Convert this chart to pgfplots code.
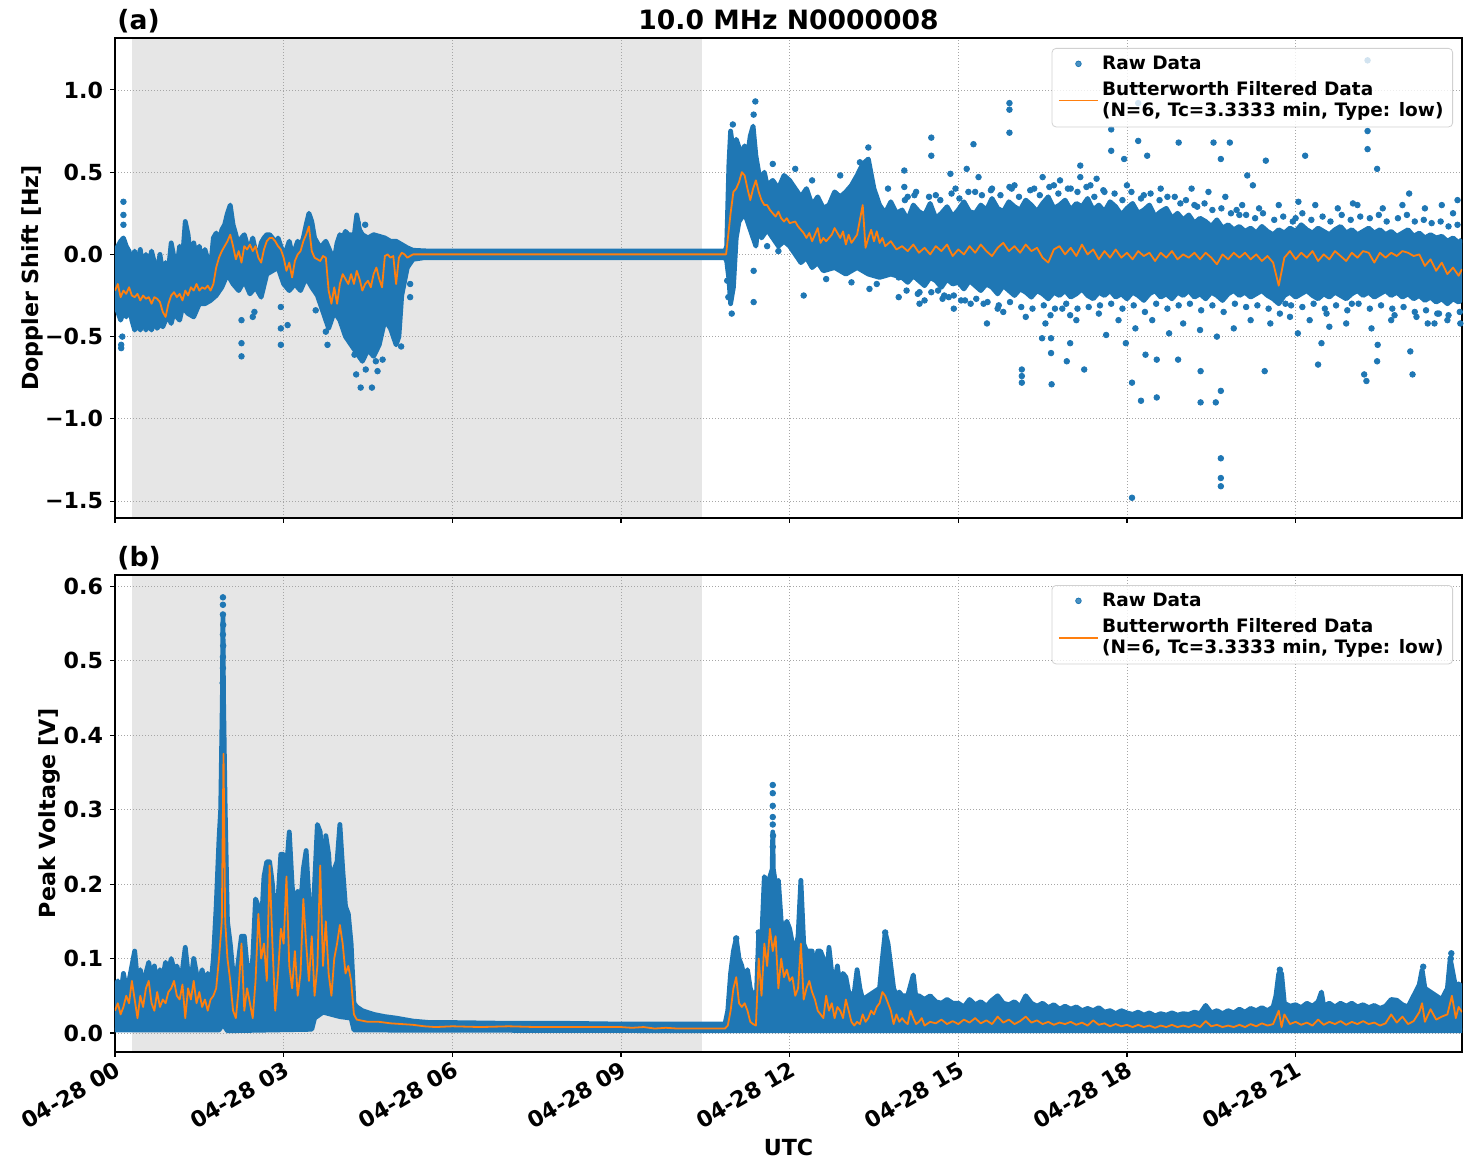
\documentclass[border=0pt]{standalone}
\usepackage{fontspec}
\setmainfont{DejaVu Sans}
\usepackage{pgfplots}
\pgfplotsset{compat=1.18}
\usepgfplotslibrary{fillbetween}
\definecolor{tblue}{HTML}{1F77B4}
\definecolor{torange}{HTML}{FF7F0E}
\definecolor{spangray}{HTML}{E6E6E6}
\pgfplotsset{
  myax/.style={
    set layers,
    scale only axis, width=673.5pt,
    xmin=0, xmax=23.96,
    xtick={0,3,6,9,12,15,18,21},
    grid=major,
    grid style={black!35, line width=0.4pt, dash pattern=on 0.5pt off 1pt},
    axis line style={line width=0.55pt},
    tick style={black, line width=0.55pt},
    major tick length=2.45pt,
    tick align=outside,
    xtick pos=left, ytick pos=left,
    ticklabel style={font=\fontsize{11.1}{12}\selectfont\bfseries},
    label style={font=\fontsize{11.1}{12}\selectfont\bfseries},
    legend cell align=left,
    legend style={at={(1,1)}, anchor=north east, xshift=-4.5pt, yshift=-5pt,
      draw=black!18, rounded corners=2pt, fill=white, fill opacity=0.8,
      draw opacity=1, text opacity=1,
      font=\fontsize{9.25}{10.6}\selectfont\bfseries,
      nodes={align=left, inner sep=1.6pt}, row sep=1.5pt,
      inner xsep=3pt, inner ysep=2pt},
  },
  rawdots/.style={only marks, mark=*, mark size=1.4pt, color=tblue,
    legend image code/.code={\draw[mark repeat=2,mark phase=2,##1] plot coordinates {(0pt,0pt) (9.75pt,0pt) (19.5pt,0pt)};}},
  filt/.style={color=torange, line width=0.9pt, line join=round,
    legend image code/.code={\draw[##1] (0pt,0pt) -- (19.5pt,0pt);}},
  env/.style={draw=tblue, line width=2.4pt, line join=round, forget plot},
}
\begin{document}
\begin{tikzpicture}
% ---------------- bottom panel (b) ----------------
\begin{axis}[myax, name=bot, at={(0,0)}, anchor=south west, height=238.5pt,
  ymin=-0.0255, ymax=0.615,
  ytick={0,0.1,0.2,0.3,0.4,0.5,0.6},
  yticklabels={0.0,0.1,0.2,0.3,0.4,0.5,0.6},
  xticklabels={04-28 00,04-28 03,04-28 06,04-28 09,04-28 12,04-28 15,04-28 18,04-28 21},
  xticklabel style={rotate=30, anchor=north east, inner sep=1pt},
  ylabel={Peak Voltage [V]}, xlabel={UTC}, ylabel shift=-5pt,
]
\addplot[fill=spangray, draw=none, forget plot, on layer=axis background]
  coordinates {(0.30,-0.0255) (10.44,-0.0255) (10.44,0.615) (0.30,0.615)} -- cycle;
\addplot[env, name path=bu] coordinates {
(0.00,0.06)(0.05,0.07)(0.10,0.05)(0.15,0.08)(0.20,0.06)(0.25,0.07)(0.30,0.09)(0.35,0.11)(0.40,0.07)(0.45,0.085)(0.50,0.06)(0.55,0.08)(0.60,0.095)(0.65,0.07)(0.70,0.09)(0.75,0.06)(0.80,0.085)(0.85,0.075)(0.90,0.095)(0.95,0.08)(1.00,0.10)(1.05,0.085)(1.10,0.09)(1.15,0.075)(1.20,0.085)(1.25,0.115)(1.30,0.08)(1.35,0.07)(1.40,0.10)(1.45,0.08)(1.50,0.07)(1.55,0.085)(1.60,0.06)(1.65,0.08)(1.70,0.06)(1.75,0.10)(1.80,0.17)(1.85,0.26)(1.88,0.30)(1.91,0.45)(1.92,0.56)(1.93,0.45)(1.96,0.30)(2.00,0.15)(2.05,0.12)(2.10,0.08)(2.15,0.07)(2.20,0.10)(2.25,0.13)(2.30,0.13)(2.35,0.09)(2.40,0.07)(2.45,0.10)(2.50,0.18)(2.55,0.17)(2.60,0.14)(2.65,0.21)(2.70,0.23)(2.75,0.23)(2.80,0.20)(2.85,0.15)(2.90,0.18)(2.95,0.24)(3.00,0.24)(3.05,0.22)(3.10,0.27)(3.15,0.20)(3.20,0.15)(3.25,0.19)(3.30,0.17)(3.35,0.22)(3.40,0.245)(3.45,0.18)(3.50,0.13)(3.55,0.20)(3.60,0.28)(3.65,0.27)(3.70,0.20)(3.75,0.265)(3.80,0.24)(3.85,0.18)(3.90,0.22)(3.95,0.23)(4.00,0.28)(4.05,0.22)(4.10,0.17)(4.15,0.16)(4.20,0.12)(4.25,0.04)(4.30,0.035)(4.40,0.03)(4.60,0.025)(4.80,0.022)(5.00,0.02)(5.30,0.016)(5.60,0.014)(6.00,0.014)(7.00,0.013)(8.00,0.013)(9.00,0.012)(10.00,0.012)(10.85,0.012)(10.90,0.03)(10.95,0.08)(11.00,0.11)(11.05,0.127)(11.10,0.10)(11.15,0.09)(11.20,0.07)(11.25,0.085)(11.30,0.06)(11.35,0.05)(11.40,0.03)(11.45,0.135)(11.50,0.12)(11.55,0.21)(11.60,0.20)(11.65,0.21)(11.69,0.22)(11.70,0.27)(11.71,0.22)(11.75,0.20)(11.80,0.205)(11.85,0.15)(11.90,0.14)(11.95,0.15)(12.00,0.14)(12.05,0.12)(12.10,0.11)(12.15,0.13)(12.20,0.205)(12.25,0.12)(12.30,0.11)(12.35,0.11)(12.40,0.11)(12.45,0.08)(12.50,0.11)(12.55,0.11)(12.60,0.10)(12.65,0.06)(12.70,0.115)(12.75,0.08)(12.80,0.07)(12.85,0.09)(12.90,0.06)(12.95,0.08)(13.00,0.075)(13.05,0.055)(13.10,0.05)(13.15,0.055)(13.20,0.085)(13.25,0.06)(13.30,0.045)(13.40,0.05)(13.50,0.055)(13.60,0.06)(13.65,0.10)(13.70,0.135)(13.75,0.12)(13.80,0.09)(13.85,0.06)(13.90,0.05)(13.95,0.055)(14.00,0.05)(14.10,0.05)(14.20,0.078)(14.25,0.045)(14.30,0.05)(14.40,0.045)(14.50,0.05)(14.60,0.042)(14.70,0.04)(14.80,0.045)(14.90,0.04)(15.00,0.04)(15.10,0.035)(15.20,0.045)(15.30,0.038)(15.40,0.042)(15.50,0.036)(15.60,0.044)(15.70,0.05)(15.80,0.04)(15.90,0.038)(16.00,0.042)(16.10,0.035)(16.20,0.05)(16.30,0.04)(16.40,0.036)(16.50,0.04)(16.60,0.034)(16.70,0.038)(16.80,0.032)(16.90,0.036)(17.00,0.032)(17.10,0.035)(17.20,0.03)(17.30,0.033)(17.40,0.03)(17.50,0.034)(17.60,0.028)(17.70,0.03)(17.80,0.026)(17.90,0.03)(18.00,0.027)(18.10,0.025)(18.20,0.028)(18.30,0.024)(18.40,0.027)(18.50,0.023)(18.60,0.026)(18.70,0.024)(18.80,0.027)(18.90,0.024)(19.00,0.026)(19.10,0.025)(19.20,0.028)(19.30,0.026)(19.40,0.037)(19.50,0.027)(19.60,0.03)(19.70,0.026)(19.80,0.03)(19.90,0.027)(20.00,0.032)(20.10,0.028)(20.20,0.033)(20.30,0.03)(20.40,0.034)(20.50,0.03)(20.60,0.035)(20.65,0.05)(20.70,0.08)(20.75,0.08)(20.80,0.04)(20.90,0.036)(21.00,0.038)(21.10,0.034)(21.20,0.04)(21.30,0.036)(21.40,0.042)(21.46,0.055)(21.50,0.036)(21.60,0.04)(21.70,0.035)(21.80,0.04)(21.90,0.036)(22.00,0.04)(22.10,0.035)(22.20,0.038)(22.30,0.034)(22.40,0.037)(22.50,0.033)(22.60,0.036)(22.70,0.045)(22.80,0.044)(22.90,0.038)(23.00,0.035)(23.10,0.05)(23.20,0.065)(23.25,0.085)(23.30,0.06)(23.40,0.055)(23.50,0.05)(23.60,0.045)(23.70,0.06)(23.75,0.10)(23.80,0.08)(23.85,0.06)(23.90,0.066)(23.96,0.062)};
\addplot[env, name path=bl] coordinates {
(0.00,0.004)(1.85,0.004)(1.92,0.012)(2.00,0.003)(3.50,0.005)(3.55,0.02)(3.70,0.028)(4.00,0.022)(4.20,0.02)(4.25,0.004)(10.85,0.003)(23.96,0.003)};
\addplot[tblue, forget plot] fill between[of=bu and bl];
\addplot[rawdots] coordinates {
(1.92,0.585)(1.92,0.575)(1.92,0.562)(1.925,0.548)(1.92,0.535)(1.925,0.52)(1.92,0.505)(1.92,0.49)(1.915,0.47)
(11.70,0.333)(11.70,0.322)(11.70,0.305)(11.70,0.29)(11.70,0.28)(11.705,0.265)(11.70,0.25)
(20.72,0.085)(20.72,0.078)(23.27,0.089)(23.77,0.107)(23.76,0.1)(13.70,0.135)(11.05,0.127)(11.45,0.135)};
\addlegendentry{Raw Data}
\addplot[filt] coordinates {
(0.00,0.03)(0.05,0.04)(0.10,0.025)(0.15,0.035)(0.20,0.05)(0.25,0.04)(0.30,0.07)(0.35,0.045)(0.40,0.02)(0.45,0.05)(0.50,0.035)(0.55,0.06)(0.60,0.07)(0.65,0.04)(0.70,0.03)(0.75,0.055)(0.80,0.035)(0.85,0.045)(0.90,0.04)(0.95,0.055)(1.00,0.06)(1.05,0.07)(1.10,0.05)(1.15,0.045)(1.20,0.065)(1.25,0.02)(1.30,0.06)(1.35,0.045)(1.40,0.07)(1.45,0.04)(1.50,0.055)(1.55,0.035)(1.60,0.045)(1.65,0.03)(1.70,0.045)(1.75,0.05)(1.80,0.06)(1.85,0.10)(1.90,0.15)(1.93,0.375)(1.96,0.15)(2.00,0.10)(2.05,0.07)(2.10,0.03)(2.15,0.02)(2.20,0.06)(2.25,0.12)(2.30,0.03)(2.35,0.06)(2.40,0.04)(2.45,0.02)(2.50,0.07)(2.55,0.16)(2.60,0.10)(2.65,0.12)(2.70,0.07)(2.75,0.225)(2.80,0.12)(2.85,0.03)(2.90,0.08)(2.95,0.14)(3.00,0.12)(3.05,0.21)(3.10,0.09)(3.15,0.06)(3.20,0.11)(3.25,0.05)(3.30,0.08)(3.35,0.18)(3.40,0.12)(3.45,0.07)(3.50,0.13)(3.55,0.05)(3.60,0.09)(3.65,0.225)(3.70,0.09)(3.75,0.15)(3.80,0.08)(3.85,0.05)(3.90,0.10)(3.95,0.12)(4.00,0.145)(4.05,0.12)(4.10,0.08)(4.15,0.09)(4.20,0.07)(4.25,0.025)(4.30,0.018)(4.50,0.015)(4.70,0.015)(4.90,0.013)(5.10,0.012)(5.30,0.011)(5.50,0.009)(5.70,0.008)(6.00,0.009)(6.50,0.008)(7.00,0.009)(7.50,0.008)(8.00,0.008)(8.50,0.008)(9.00,0.008)(9.20,0.007)(9.40,0.008)(9.60,0.006)(9.80,0.007)(10.00,0.006)(10.20,0.006)(10.85,0.006)(10.90,0.01)(10.95,0.03)(11.00,0.06)(11.05,0.075)(11.10,0.04)(11.15,0.035)(11.20,0.04)(11.25,0.03)(11.30,0.015)(11.35,0.012)(11.40,0.01)(11.45,0.10)(11.50,0.05)(11.55,0.12)(11.60,0.09)(11.65,0.14)(11.70,0.11)(11.75,0.13)(11.80,0.06)(11.85,0.10)(11.90,0.075)(11.95,0.085)(12.00,0.07)(12.05,0.075)(12.10,0.05)(12.15,0.06)(12.20,0.12)(12.25,0.045)(12.30,0.06)(12.35,0.07)(12.40,0.055)(12.45,0.045)(12.50,0.03)(12.55,0.025)(12.60,0.02)(12.65,0.05)(12.70,0.03)(12.75,0.04)(12.80,0.02)(12.85,0.035)(12.90,0.03)(12.95,0.02)(13.00,0.045)(13.05,0.03)(13.10,0.015)(13.15,0.01)(13.20,0.015)(13.25,0.012)(13.30,0.025)(13.35,0.015)(13.40,0.02)(13.45,0.03)(13.50,0.025)(13.55,0.035)(13.60,0.04)(13.65,0.055)(13.70,0.05)(13.75,0.04)(13.80,0.03)(13.85,0.012)(13.90,0.025)(13.95,0.015)(14.00,0.02)(14.05,0.015)(14.10,0.012)(14.15,0.03)(14.20,0.02)(14.25,0.012)(14.30,0.015)(14.35,0.02)(14.40,0.01)(14.50,0.015)(14.60,0.013)(14.70,0.018)(14.80,0.012)(14.90,0.016)(15.00,0.012)(15.10,0.018)(15.20,0.014)(15.30,0.02)(15.40,0.013)(15.50,0.017)(15.60,0.012)(15.70,0.022)(15.80,0.014)(15.90,0.018)(16.00,0.012)(16.10,0.016)(16.20,0.022)(16.30,0.014)(16.40,0.017)(16.50,0.012)(16.60,0.015)(16.70,0.011)(16.80,0.014)(16.90,0.012)(17.00,0.015)(17.10,0.011)(17.20,0.014)(17.30,0.010)(17.40,0.017)(17.50,0.011)(17.60,0.013)(17.70,0.009)(17.80,0.012)(17.90,0.009)(18.00,0.011)(18.10,0.008)(18.20,0.011)(18.30,0.008)(18.40,0.010)(18.50,0.007)(18.60,0.010)(18.70,0.008)(18.80,0.011)(18.90,0.008)(19.00,0.010)(19.10,0.008)(19.20,0.011)(19.30,0.008)(19.40,0.016)(19.50,0.009)(19.60,0.011)(19.70,0.008)(19.80,0.010)(19.90,0.008)(20.00,0.011)(20.10,0.008)(20.20,0.012)(20.30,0.009)(20.40,0.013)(20.50,0.010)(20.60,0.012)(20.70,0.030)(20.75,0.008)(20.80,0.025)(20.90,0.012)(21.00,0.015)(21.10,0.011)(21.20,0.014)(21.30,0.010)(21.40,0.018)(21.50,0.011)(21.60,0.015)(21.70,0.012)(21.80,0.016)(21.90,0.011)(22.00,0.015)(22.10,0.012)(22.20,0.016)(22.30,0.012)(22.40,0.014)(22.50,0.010)(22.60,0.013)(22.70,0.025)(22.80,0.014)(22.90,0.022)(23.00,0.012)(23.10,0.016)(23.20,0.028)(23.25,0.04)(23.30,0.015)(23.40,0.032)(23.50,0.018)(23.60,0.022)(23.70,0.025)(23.78,0.05)(23.85,0.02)(23.90,0.035)(23.96,0.028)};
\addlegendentry{Butterworth Filtered Data\\(N=6, Tc=3.3333 min, Type: low)}
\end{axis}
% ---------------- top panel (a) ----------------
\begin{axis}[myax, name=top, at={(0,267pt)}, anchor=south west, height=240pt,
  ymin=-1.603, ymax=1.316,
  ytick={-1.5,-1,-0.5,0,0.5,1},
  yticklabels={−1.5,−1.0,−0.5,0.0,0.5,1.0},
  xticklabels={},
  ylabel={Doppler Shift [Hz]}, ylabel shift=-6pt,
]
\addplot[fill=spangray, draw=none, forget plot, on layer=axis background]
  coordinates {(0.30,-1.603) (10.44,-1.603) (10.44,1.316) (0.30,1.316)} -- cycle;
\addplot[env, name path=tu] coordinates {
(0.00,0.02)(0.05,0.05)(0.10,0.08)(0.15,0.10)(0.20,0.05)(0.25,0.02)(0.30,-0.05)(0.35,0.02)(0.40,-0.08)(0.45,0.03)(0.50,-0.10)(0.55,0.00)(0.60,-0.08)(0.65,0.02)(0.70,-0.05)(0.75,-0.10)(0.80,0.00)(0.85,-0.12)(0.90,-0.05)(0.95,-0.10)(1.00,0.07)(1.05,-0.02)(1.10,-0.08)(1.15,0.05)(1.20,-0.03)(1.25,0.20)(1.30,0.12)(1.35,-0.05)(1.40,0.07)(1.45,-0.02)(1.50,0.05)(1.55,-0.05)(1.60,0.03)(1.65,-0.03)(1.70,-0.08)(1.75,0.10)(1.80,0.13)(1.85,0.07)(1.90,0.15)(1.95,0.18)(2.00,0.25)(2.05,0.30)(2.10,0.18)(2.15,0.12)(2.20,0.05)(2.25,0.10)(2.30,0.12)(2.35,0.06)(2.40,0.04)(2.45,0.10)(2.50,0.02)(2.55,-0.02)(2.60,0.07)(2.65,0.10)(2.70,0.12)(2.75,0.12)(2.80,0.10)(2.85,0.05)(2.90,0.10)(2.95,0.05)(3.00,0.00)(3.05,0.03)(3.10,0.08)(3.15,0.00)(3.20,0.03)(3.25,0.08)(3.30,0.05)(3.35,0.10)(3.40,0.18)(3.45,0.25)(3.50,0.20)(3.55,0.10)(3.60,0.07)(3.65,0.04)(3.70,0.06)(3.75,0.08)(3.80,0.04)(3.85,0.00)(3.90,-0.03)(3.95,0.07)(4.00,0.12)(4.05,0.10)(4.10,0.14)(4.15,0.12)(4.20,0.12)(4.25,0.10)(4.30,0.24)(4.35,0.15)(4.40,0.12)(4.50,0.10)(4.60,0.12)(4.70,0.11)(4.80,0.10)(4.90,0.08)(5.00,0.08)(5.10,0.06)(5.20,0.04)(5.30,0.025)(5.60,0.02)(6.00,0.02)(7.00,0.02)(8.00,0.02)(9.00,0.02)(10.00,0.02)(10.85,0.02)(10.88,0.05)(10.92,0.55)(10.95,0.75)(11.00,0.62)(11.05,0.70)(11.10,0.65)(11.15,0.62)(11.20,0.66)(11.25,0.60)(11.30,0.72)(11.35,0.78)(11.40,0.60)(11.45,0.50)(11.50,0.45)(11.55,0.50)(11.60,0.42)(11.70,0.45)(11.80,0.40)(11.90,0.48)(12.00,0.45)(12.10,0.40)(12.20,0.35)(12.30,0.40)(12.40,0.30)(12.50,0.35)(12.60,0.28)(12.70,0.30)(12.80,0.38)(12.90,0.35)(13.00,0.38)(13.10,0.42)(13.20,0.48)(13.30,0.55)(13.40,0.58)(13.50,0.40)(13.60,0.30)(13.70,0.25)(13.80,0.32)(13.90,0.25)(14.00,0.27)(14.10,0.21)(14.20,0.30)(14.30,0.26)(14.40,0.24)(14.50,0.31)(14.60,0.22)(14.70,0.25)(14.80,0.29)(14.90,0.23)(15.00,0.27)(15.10,0.32)(15.20,0.26)(15.30,0.25)(15.40,0.30)(15.50,0.27)(15.60,0.34)(15.70,0.28)(15.80,0.26)(15.90,0.32)(16.00,0.29)(16.10,0.27)(16.20,0.33)(16.30,0.30)(16.40,0.26)(16.50,0.31)(16.60,0.35)(16.70,0.28)(16.80,0.30)(16.90,0.33)(17.00,0.27)(17.10,0.31)(17.20,0.29)(17.30,0.34)(17.40,0.27)(17.50,0.30)(17.60,0.26)(17.70,0.32)(17.80,0.29)(17.90,0.24)(18.00,0.28)(18.10,0.31)(18.20,0.25)(18.30,0.27)(18.40,0.30)(18.50,0.23)(18.60,0.26)(18.70,0.28)(18.80,0.22)(18.90,0.25)(19.00,0.21)(19.10,0.24)(19.20,0.19)(19.30,0.22)(19.40,0.20)(19.50,0.17)(19.60,0.21)(19.70,0.16)(19.80,0.18)(19.90,0.15)(20.00,0.17)(20.10,0.14)(20.20,0.16)(20.30,0.13)(20.40,0.17)(20.50,0.14)(20.60,0.12)(20.70,0.15)(20.80,0.13)(20.90,0.16)(21.00,0.14)(21.10,0.18)(21.20,0.15)(21.30,0.13)(21.40,0.16)(21.50,0.14)(21.60,0.12)(21.70,0.15)(21.80,0.17)(21.90,0.13)(22.00,0.15)(22.10,0.12)(22.20,0.14)(22.30,0.16)(22.40,0.13)(22.50,0.15)(22.60,0.12)(22.70,0.14)(22.80,0.11)(22.90,0.13)(23.00,0.15)(23.10,0.11)(23.20,0.13)(23.30,0.10)(23.40,0.12)(23.50,0.10)(23.60,0.11)(23.70,0.08)(23.80,0.10)(23.90,0.07)(23.96,0.09)};
\addplot[env, name path=tl] coordinates {
(0.00,-0.30)(0.05,-0.35)(0.10,-0.40)(0.15,-0.35)(0.20,-0.38)(0.25,-0.30)(0.30,-0.40)(0.35,-0.46)(0.40,-0.42)(0.45,-0.46)(0.50,-0.40)(0.55,-0.46)(0.60,-0.42)(0.65,-0.46)(0.70,-0.40)(0.75,-0.45)(0.80,-0.42)(0.85,-0.44)(0.90,-0.40)(0.95,-0.38)(1.00,-0.42)(1.05,-0.35)(1.10,-0.38)(1.15,-0.40)(1.20,-0.32)(1.30,-0.36)(1.40,-0.38)(1.50,-0.30)(1.60,-0.30)(1.70,-0.28)(1.80,-0.25)(1.90,-0.20)(2.00,-0.12)(2.10,-0.18)(2.20,-0.22)(2.30,-0.16)(2.40,-0.24)(2.50,-0.20)(2.60,-0.26)(2.70,-0.12)(2.80,-0.10)(2.90,-0.08)(3.00,-0.18)(3.10,-0.22)(3.20,-0.18)(3.30,-0.22)(3.40,-0.14)(3.50,-0.20)(3.60,-0.25)(3.70,-0.35)(3.80,-0.45)(3.90,-0.35)(4.00,-0.40)(4.10,-0.50)(4.20,-0.55)(4.30,-0.60)(4.40,-0.65)(4.50,-0.58)(4.60,-0.62)(4.70,-0.55)(4.80,-0.40)(4.90,-0.45)(5.00,-0.55)(5.05,-0.50)(5.10,-0.25)(5.20,-0.08)(5.30,-0.03)(5.50,-0.02)(6.00,-0.02)(7.00,-0.02)(8.00,-0.02)(9.00,-0.02)(10.00,-0.02)(10.85,-0.02)(10.88,-0.04)(10.92,-0.15)(10.95,-0.30)(11.00,-0.20)(11.05,0.10)(11.10,0.20)(11.20,0.25)(11.30,0.15)(11.40,0.05)(11.45,0.20)(11.50,0.10)(11.60,0.15)(11.70,0.10)(11.80,0.05)(11.90,0.08)(12.00,0.05)(12.10,0.00)(12.20,-0.05)(12.30,-0.02)(12.40,-0.08)(12.50,-0.05)(12.60,-0.10)(12.80,-0.08)(13.00,-0.12)(13.20,-0.08)(13.40,-0.12)(13.60,-0.14)(13.80,-0.12)(14.00,-0.14)(14.10,-0.17)(14.20,-0.13)(14.30,-0.16)(14.40,-0.19)(14.50,-0.14)(14.60,-0.16)(14.70,-0.20)(14.80,-0.15)(14.90,-0.18)(15.00,-0.17)(15.10,-0.21)(15.20,-0.16)(15.30,-0.19)(15.40,-0.22)(15.50,-0.18)(15.60,-0.20)(15.70,-0.24)(15.80,-0.19)(15.90,-0.22)(16.00,-0.25)(16.10,-0.21)(16.20,-0.23)(16.30,-0.26)(16.40,-0.22)(16.50,-0.24)(16.60,-0.27)(16.70,-0.23)(16.80,-0.25)(16.90,-0.22)(17.00,-0.26)(17.10,-0.24)(17.20,-0.21)(17.30,-0.25)(17.40,-0.27)(17.50,-0.23)(17.60,-0.25)(17.70,-0.22)(17.80,-0.26)(17.90,-0.24)(18.00,-0.27)(18.10,-0.23)(18.20,-0.25)(18.30,-0.28)(18.40,-0.24)(18.50,-0.22)(18.60,-0.26)(18.70,-0.24)(18.80,-0.27)(18.90,-0.23)(19.00,-0.25)(19.10,-0.22)(19.20,-0.26)(19.30,-0.24)(19.40,-0.27)(19.50,-0.23)(19.60,-0.25)(19.70,-0.28)(19.80,-0.24)(19.90,-0.22)(20.00,-0.25)(20.10,-0.23)(20.20,-0.26)(20.30,-0.24)(20.40,-0.22)(20.50,-0.25)(20.60,-0.27)(20.70,-0.30)(20.80,-0.25)(20.90,-0.23)(21.00,-0.26)(21.10,-0.24)(21.20,-0.22)(21.30,-0.25)(21.40,-0.27)(21.50,-0.24)(21.60,-0.26)(21.70,-0.23)(21.80,-0.25)(21.90,-0.27)(22.00,-0.24)(22.10,-0.22)(22.20,-0.25)(22.30,-0.23)(22.40,-0.26)(22.50,-0.24)(22.60,-0.22)(22.70,-0.25)(22.80,-0.23)(22.90,-0.26)(23.00,-0.24)(23.10,-0.27)(23.20,-0.25)(23.30,-0.28)(23.40,-0.26)(23.50,-0.29)(23.60,-0.27)(23.70,-0.30)(23.80,-0.27)(23.90,-0.29)(23.96,-0.27)};
\addplot[tblue, forget plot] fill between[of=tu and tl];
\addplot[rawdots] coordinates {
(0.15,0.32)(0.15,0.24)(0.15,0.18)(0.11,-0.55)(0.11,-0.57)(0.13,-0.50)
(2.25,-0.62)(2.25,-0.54)(2.25,-0.40)(2.45,-0.38)(2.48,-0.35)(2.95,-0.45)(2.95,-0.55)(2.95,-0.32)(3.07,-0.43)(3.78,-0.55)(3.75,-0.47)(3.57,-0.34)
(4.29,-0.73)(4.37,-0.81)(4.46,-0.70)(4.57,-0.81)(4.67,-0.71)(4.76,-0.64)(4.26,-0.61)(4.64,-0.65)(5.09,-0.56)(5.25,-0.26)(5.25,-0.18)(4.32,0.19)(4.45,0.18)
(11.39,0.93)(11.36,0.85)(10.99,0.79)(10.91,-0.26)(10.97,-0.36)(10.89,-0.16)(11.36,-0.10)(11.36,-0.29)(12.25,-0.25)(13.40,0.65)(13.42,-0.21)(13.94,-0.14)(13.94,-0.26)(14.04,0.51)(14.04,0.41)(14.31,-0.23)(14.31,-0.30)(14.52,0.71)(14.52,0.60)(14.64,-0.22)(14.83,-0.26)(14.86,0.49)(14.92,-0.33)(15.15,0.52)(15.22,-0.30)(15.27,0.67)(15.36,0.47)(15.51,-0.42)(15.70,-0.33)(15.91,0.92)(15.91,0.88)(15.91,0.74)(15.91,0.41)(16.13,-0.70)(16.13,-0.74)(16.13,-0.78)(16.49,-0.51)(16.50,0.47)(16.64,-0.37)(16.65,-0.51)(16.65,-0.60)(16.66,-0.79)(16.81,0.45)(16.93,-0.65)(16.99,-0.37)(16.99,-0.54)(17.17,0.54)(17.24,-0.70)(17.17,0.47)(17.46,0.46)(17.63,-0.49)(17.72,0.76)(17.72,0.63)(17.95,0.58)(17.98,-0.54)(18.09,-0.78)(18.09,-1.48)(18.20,0.92)(18.20,0.69)(18.25,-0.89)(18.36,0.60)(18.33,-0.61)(18.53,-0.87)(18.53,-0.64)(18.92,0.68)(18.91,-0.64)(19.31,-0.71)(19.31,-0.90)(19.54,0.68)(19.58,-0.90)(19.67,-0.83)(19.67,-1.24)(19.67,-1.36)(19.67,-1.41)(19.67,0.58)(19.83,0.68)(20.14,0.48)(20.24,0.42)(20.47,0.57)(20.45,-0.71)(20.82,-0.30)(21.04,-0.48)(21.17,0.60)(21.40,-0.67)(21.46,-0.54)(21.60,-0.44)(22.02,0.31)(22.22,-0.73)(22.26,-0.77)(22.28,1.18)(22.28,0.75)(22.28,0.64)(22.45,0.52)(22.45,-0.65)(22.46,-0.55)(22.76,-0.37)(23.02,0.37)(23.08,-0.73)(23.04,-0.59)(23.35,-0.42)(23.47,-0.42)(23.70,-0.40)(23.88,0.33)(23.93,-0.42)
(14.10,0.35)(14.25,0.38)(14.40,-0.28)(14.60,0.36)(14.75,-0.25)(14.95,0.40)(15.05,-0.28)(15.30,0.38)(15.45,-0.30)(15.60,0.40)(15.80,-0.35)(16.00,0.42)(16.20,-0.38)(16.35,0.40)(16.55,-0.42)(16.70,0.42)(16.85,-0.33)(17.00,0.40)(17.10,-0.40)(17.35,0.42)(17.50,-0.36)(17.60,0.38)(17.85,-0.40)(18.00,0.42)(18.15,-0.45)(18.30,0.36)(18.45,-0.40)(18.60,0.40)(18.75,-0.48)(18.85,0.35)(19.00,-0.42)(19.15,0.40)(19.30,-0.46)(19.45,0.38)(19.60,-0.50)(19.75,0.35)(19.90,-0.45)(20.05,0.30)(20.20,-0.40)(20.35,0.28)(20.55,-0.42)(20.70,0.30)(20.90,-0.38)(21.05,0.32)(21.25,-0.40)(21.35,0.30)(21.55,-0.36)(21.75,0.28)(21.90,-0.42)(22.10,0.30)(22.35,-0.45)(22.55,0.28)(22.70,-0.40)(22.90,0.30)(23.15,-0.38)(23.30,0.28)(23.55,-0.36)(23.80,0.25)(23.60,0.30)(22.00,-0.30)(21.00,0.22)(20.00,0.24)(19.20,0.30)
(12.40,0.45)(12.65,-0.15)(12.90,0.48)(13.10,-0.17)(13.25,0.56)(13.55,-0.18)(13.75,0.40)(12.10,0.52)(11.70,0.55)(11.80,0.02)(11.60,0.05)
(14.05,0.33)(14.22,0.36)(14.48,0.35)(14.68,0.33)(14.88,0.37)(15.02,0.34)(15.18,0.38)(15.42,0.36)(15.58,0.39)(15.75,0.36)(15.95,0.40)(16.08,0.35)(16.28,0.39)(16.45,0.36)(16.62,0.41)(16.78,0.37)(16.95,0.40)(17.12,0.38)(17.28,0.41)(17.42,0.35)(17.58,0.39)(17.78,0.37)(17.92,0.33)(18.08,0.38)(18.25,0.34)(18.42,0.37)(18.58,0.33)(18.72,0.35)(18.95,0.31)(19.05,0.33)(19.25,0.29)(19.38,0.31)(19.52,0.27)(19.68,0.28)(19.85,0.25)(19.95,0.27)(20.12,0.24)(20.28,0.22)(20.42,0.25)(20.62,0.21)(20.78,0.23)(20.95,0.20)(21.12,0.25)(21.28,0.21)(21.48,0.23)(21.62,0.20)(21.82,0.24)(21.98,0.21)(22.15,0.23)(22.32,0.22)(22.48,0.24)(22.62,0.20)(22.82,0.22)(22.98,0.24)(23.12,0.20)(23.28,0.21)(23.42,0.19)(23.58,0.20)(23.72,0.17)(23.88,0.18)
(14.08,-0.22)(14.28,-0.24)(14.52,-0.23)(14.72,-0.27)(14.92,-0.25)(15.12,-0.28)(15.32,-0.27)(15.52,-0.29)(15.72,-0.31)(15.92,-0.29)(16.12,-0.32)(16.32,-0.33)(16.52,-0.31)(16.72,-0.33)(16.92,-0.30)(17.12,-0.33)(17.32,-0.32)(17.52,-0.31)(17.72,-0.30)(17.92,-0.33)(18.12,-0.31)(18.32,-0.35)(18.52,-0.30)(18.72,-0.33)(18.92,-0.31)(19.12,-0.30)(19.32,-0.34)(19.52,-0.31)(19.72,-0.35)(19.92,-0.30)(20.12,-0.32)(20.32,-0.31)(20.52,-0.33)(20.72,-0.36)(20.92,-0.31)(21.12,-0.32)(21.32,-0.30)(21.52,-0.33)(21.72,-0.31)(21.92,-0.34)(22.12,-0.30)(22.32,-0.33)(22.52,-0.31)(22.72,-0.33)(22.92,-0.32)(23.12,-0.35)(23.32,-0.34)(23.52,-0.36)(23.72,-0.37)(23.92,-0.35)};
\addlegendentry{Raw Data}
\addplot[filt] coordinates {
(0.00,-0.22)(0.05,-0.18)(0.10,-0.26)(0.15,-0.22)(0.20,-0.24)(0.25,-0.20)(0.30,-0.25)(0.35,-0.26)(0.40,-0.24)(0.45,-0.28)(0.50,-0.25)(0.55,-0.27)(0.60,-0.26)(0.65,-0.30)(0.70,-0.26)(0.75,-0.27)(0.80,-0.29)(0.85,-0.35)(0.90,-0.38)(0.95,-0.30)(1.00,-0.25)(1.05,-0.23)(1.10,-0.26)(1.15,-0.24)(1.20,-0.28)(1.25,-0.22)(1.30,-0.25)(1.35,-0.20)(1.40,-0.22)(1.45,-0.18)(1.50,-0.22)(1.55,-0.20)(1.60,-0.21)(1.65,-0.19)(1.70,-0.22)(1.75,-0.18)(1.80,-0.08)(1.85,-0.02)(1.90,0.02)(1.95,0.05)(2.00,0.08)(2.05,0.12)(2.10,0.05)(2.15,-0.03)(2.20,0.02)(2.25,-0.05)(2.30,0.05)(2.35,0.03)(2.40,0.06)(2.45,0.02)(2.50,0.05)(2.55,-0.02)(2.60,-0.05)(2.65,0.03)(2.70,0.08)(2.75,0.10)(2.80,0.10)(2.85,0.08)(2.90,0.05)(2.95,0.03)(3.00,-0.02)(3.05,-0.10)(3.10,-0.05)(3.15,-0.14)(3.20,-0.04)(3.25,0.00)(3.30,0.02)(3.35,0.08)(3.40,0.12)(3.45,0.17)(3.50,0.02)(3.55,-0.02)(3.60,-0.03)(3.65,-0.04)(3.70,-0.01)(3.75,-0.02)(3.80,-0.22)(3.85,-0.30)(3.90,-0.20)(3.95,-0.30)(4.00,-0.18)(4.05,-0.12)(4.10,-0.15)(4.15,-0.18)(4.20,-0.12)(4.25,-0.18)(4.30,-0.10)(4.35,-0.15)(4.40,-0.22)(4.45,-0.18)(4.50,-0.16)(4.55,-0.20)(4.60,-0.12)(4.65,-0.08)(4.70,-0.15)(4.75,-0.20)(4.80,-0.01)(4.85,0.00)(4.90,-0.02)(4.95,-0.01)(5.00,-0.18)(5.05,-0.02)(5.10,0.01)(5.15,0.00)(5.20,-0.02)(5.30,0.00)(6.00,0.00)(7.00,0.00)(8.00,0.00)(9.00,0.00)(10.00,0.00)(10.87,0.00)(10.95,0.25)(11.00,0.38)(11.05,0.40)(11.10,0.44)(11.15,0.50)(11.20,0.48)(11.25,0.40)(11.30,0.33)(11.35,0.40)(11.40,0.45)(11.45,0.38)(11.50,0.33)(11.55,0.30)(11.60,0.30)(11.65,0.27)(11.70,0.25)(11.75,0.23)(11.80,0.26)(11.85,0.22)(11.90,0.20)(11.95,0.22)(12.00,0.19)(12.10,0.20)(12.15,0.17)(12.20,0.15)(12.25,0.13)(12.30,0.10)(12.35,0.13)(12.40,0.08)(12.45,0.12)(12.50,0.16)(12.55,0.07)(12.60,0.10)(12.65,0.08)(12.70,0.10)(12.75,0.12)(12.80,0.16)(12.85,0.13)(12.90,0.10)(12.95,0.14)(13.00,0.06)(13.05,0.12)(13.10,0.07)(13.20,0.12)(13.30,0.30)(13.35,0.04)(13.40,0.10)(13.45,0.15)(13.50,0.08)(13.55,0.14)(13.60,0.07)(13.65,0.10)(13.70,0.05)(13.80,0.08)(13.90,0.03)(14.00,0.05)(14.10,0.02)(14.20,0.06)(14.30,0.01)(14.40,0.04)(14.50,0.00)(14.60,0.05)(14.70,0.02)(14.80,0.06)(14.90,-0.01)(15.00,0.03)(15.10,0.00)(15.20,0.05)(15.30,0.01)(15.40,0.06)(15.50,0.02)(15.60,-0.01)(15.70,0.04)(15.80,0.07)(15.90,0.02)(16.00,0.05)(16.10,0.01)(16.20,0.06)(16.30,0.02)(16.40,0.04)(16.50,-0.02)(16.60,-0.05)(16.70,0.03)(16.80,0.05)(16.90,0.00)(17.00,0.04)(17.10,-0.01)(17.20,0.06)(17.30,0.00)(17.40,0.03)(17.50,-0.03)(17.60,0.02)(17.70,-0.02)(17.80,0.03)(17.90,-0.02)(18.00,0.01)(18.10,-0.03)(18.20,0.02)(18.30,-0.01)(18.40,0.01)(18.50,-0.04)(18.60,0.01)(18.70,-0.02)(18.80,0.02)(18.90,-0.03)(19.00,0.00)(19.10,-0.02)(19.20,0.01)(19.30,-0.03)(19.40,0.01)(19.50,-0.02)(19.60,-0.06)(19.70,0.00)(19.80,-0.03)(19.90,0.01)(20.00,-0.02)(20.10,0.01)(20.20,-0.03)(20.30,0.00)(20.40,-0.04)(20.50,-0.01)(20.60,-0.05)(20.70,-0.19)(20.80,-0.02)(20.90,0.02)(21.00,-0.03)(21.10,0.01)(21.20,-0.02)(21.30,0.02)(21.40,-0.04)(21.50,0.00)(21.60,-0.03)(21.70,0.02)(21.80,-0.01)(21.90,-0.04)(22.00,0.01)(22.10,-0.02)(22.20,0.02)(22.30,0.01)(22.40,-0.05)(22.50,0.01)(22.60,-0.02)(22.70,0.01)(22.80,-0.01)(22.90,0.02)(23.00,0.01)(23.10,-0.01)(23.20,0.00)(23.30,-0.07)(23.40,-0.03)(23.50,-0.10)(23.60,-0.05)(23.70,-0.12)(23.80,-0.08)(23.90,-0.13)(23.96,-0.09)};
\addlegendentry{Butterworth Filtered Data\\(N=6, Tc=3.3333 min, Type: low)}
\end{axis}
\node[anchor=base, font=\fontsize{13.3}{15}\selectfont\bfseries] at ([yshift=4pt]top.north) {10.0 MHz N0000008};
\node[anchor=base west, font=\fontsize{13.3}{15}\selectfont\bfseries, inner sep=0pt] at ([yshift=4pt,xshift=1pt]top.north west) {(a)};
\node[anchor=base west, font=\fontsize{13.3}{15}\selectfont\bfseries, inner sep=0pt] at ([yshift=4pt,xshift=1pt]bot.north west) {(b)};
\pgfresetboundingbox
\path[use as bounding box] (-57.5pt,-60pt) rectangle (678pt,526pt);
\end{tikzpicture}
\end{document}
